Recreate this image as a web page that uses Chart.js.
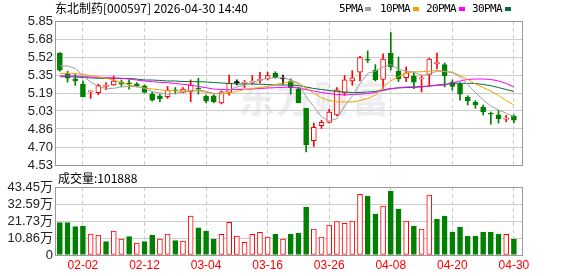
<!DOCTYPE html>
<html>
<head>
<meta charset="utf-8">
<script src="https://cdn.jsdelivr.net/npm/chart.js@4/dist/chart.umd.min.js"></script>
<style>
body { margin: 0; width: 578px; height: 276px; background: #fff; position: relative; overflow: hidden; }
canvas { position: absolute; left: 0; z-index: 1; }
.txt { position: absolute; font-family: "Noto Sans CJK SC", sans-serif; font-size: 12px; line-height: 14px; color: #000; white-space: nowrap; z-index: 2; }
.lg { position: absolute; font-family: "DejaVu Sans Mono", monospace; font-size: 11px; letter-spacing: -0.6px; line-height: 14px; color: #000; z-index: 2; }
.sq { position: absolute; width: 6px; height: 4px; top: 7px; z-index: 2; }
#wm { position: absolute; left: 238px; top: 70px; font-family: "Noto Sans CJK SC", sans-serif; font-weight: bold; font-size: 37px; color: #ededf1; letter-spacing: 1px; z-index: 0; }
</style>
</head>
<body>
<div id="wm">东方财富</div>
<div class="txt" style="left:55px;top:1px;">东北制药[000597] 2026-04-30 14:40</div>
<div class="lg" style="left:339px;top:2px;">5PMA</div><div class="sq" style="left:365px;background:#a0a0a0;"></div>
<div class="lg" style="left:380px;top:2px;">10PMA</div><div class="sq" style="left:413px;background:#f5a300;"></div>
<div class="lg" style="left:426px;top:2px;">20PMA</div><div class="sq" style="left:459px;background:#ff00ff;"></div>
<div class="lg" style="left:472px;top:2px;">30PMA</div><div class="sq" style="left:505px;background:#00703c;"></div>
<div class="txt" style="left:58px;top:171px;">成交量:101888</div>
<canvas id="price" width="578" height="180" style="top:0"></canvas>
<canvas id="vol" width="578" height="100" style="top:176px"></canvas>
<script>
// 交易日
var dates = ['01-28','01-29','01-30','02-02','02-03','02-04','02-05','02-06','02-09','02-10',
  '02-11','02-12','02-13','02-24','02-25','02-26','02-27','03-02','03-03','03-04',
  '03-05','03-06','03-09','03-10','03-11','03-12','03-13','03-16','03-17','03-18',
  '03-19','03-20','03-23','03-24','03-25','03-26','03-27','03-30','03-31','04-01',
  '04-02','04-03','04-07','04-08','04-09','04-10','04-13','04-14','04-15','04-16',
  '04-17','04-20','04-21','04-22','04-23','04-24','04-27','04-28','04-29','04-30'];
var tickDates = ['02-02','02-12','03-04','03-16','03-26','04-08','04-20','04-30'];

var openP = [5.555,5.37,5.32,5.27,5.20,5.193,5.25,5.265,5.29,5.28,
  5.275,5.255,5.18,5.165,5.156,5.215,5.195,5.20,5.235,5.16,
  5.165,5.10,5.195,5.285,5.28,5.29,5.305,5.32,5.37,5.32,
  5.30,5.225,5.05,4.753,4.89,4.92,4.99,5.19,5.30,5.38,
  5.495,5.40,5.315,5.555,5.39,5.33,5.345,5.32,5.36,5.46,
  5.45,5.29,5.27,5.15,5.105,5.06,5.00,4.99,4.95,4.975];
var highP = [5.56,5.39,5.36,5.30,5.21,5.27,5.285,5.345,5.31,5.31,
  5.285,5.265,5.20,5.18,5.25,5.24,5.24,5.31,5.325,5.17,
  5.175,5.21,5.355,5.31,5.305,5.35,5.38,5.38,5.385,5.355,
  5.32,5.245,5.05,4.915,4.94,5.04,5.24,5.35,5.395,5.525,
  5.575,5.45,5.55,5.745,5.52,5.43,5.375,5.355,5.51,5.555,
  5.465,5.31,5.285,5.165,5.12,5.08,5.015,5.03,4.985,4.99];
var lowP = [5.39,5.29,5.26,5.155,5.14,5.175,5.22,5.26,5.25,5.225,
  5.245,5.19,5.115,5.11,5.14,5.18,5.19,5.11,5.18,5.10,
  5.10,5.09,5.17,5.265,5.24,5.27,5.28,5.31,5.325,5.27,
  5.18,5.10,4.65,4.70,4.865,4.915,4.98,5.17,5.26,5.30,
  5.47,5.30,5.235,5.40,5.295,5.295,5.23,5.20,5.255,5.41,
  5.245,5.215,5.125,5.08,5.05,4.99,4.905,4.915,4.925,4.915];
var closeP = [5.40,5.325,5.30,5.155,5.202,5.257,5.255,5.30,5.27,5.275,
  5.255,5.195,5.125,5.135,5.217,5.21,5.225,5.263,5.225,5.115,
  5.11,5.20,5.28,5.285,5.29,5.30,5.31,5.35,5.33,5.32,
  5.24,5.10,4.715,4.875,4.92,5.015,5.22,5.31,5.33,5.515,
  5.49,5.31,5.50,5.43,5.32,5.375,5.29,5.325,5.50,5.465,
  5.35,5.25,5.18,5.12,5.08,5.02,4.995,4.955,4.955,4.94];

var ma5 = [5.438,5.438,5.415,5.346,5.291,5.25,5.231,5.233,5.245,5.25,
  5.25,5.231,5.204,5.19,5.181,5.185,5.199,5.211,5.218,5.206,
  5.187,5.187,5.218,5.245,5.263,5.284,5.309,5.325,5.33,5.33,
  5.309,5.279,5.156,5.064,4.973,4.933,4.955,5.07,5.16,5.275,
  5.37,5.39,5.43,5.45,5.41,5.387,5.383,5.35,5.362,5.39,
  5.386,5.378,5.34,5.265,5.195,5.128,5.07,5.034,5.005,4.975];
var ma10 = [5.37,5.37,5.369,5.361,5.35,5.337,5.325,5.309,5.284,5.263,
  5.25,5.236,5.227,5.218,5.211,5.211,5.208,5.211,5.208,5.196,
  5.185,5.181,5.19,5.204,5.222,5.231,5.24,5.25,5.268,5.282,
  5.294,5.282,5.235,5.19,5.147,5.12,5.11,5.108,5.108,5.12,
  5.14,5.17,5.245,5.30,5.34,5.375,5.383,5.385,5.39,5.396,
  5.389,5.38,5.35,5.314,5.273,5.24,5.208,5.167,5.121,5.08];
var ma20 = [5.346,5.346,5.346,5.341,5.337,5.334,5.332,5.328,5.325,5.318,
  5.309,5.30,5.294,5.288,5.284,5.277,5.27,5.263,5.25,5.238,
  5.226,5.222,5.22,5.222,5.224,5.227,5.231,5.236,5.239,5.242,
  5.245,5.236,5.222,5.208,5.195,5.185,5.176,5.172,5.176,5.18,
  5.185,5.195,5.213,5.227,5.239,5.245,5.248,5.25,5.254,5.259,
  5.263,5.282,5.30,5.314,5.318,5.318,5.314,5.30,5.277,5.245];
var ma30 = [5.339,5.339,5.337,5.332,5.328,5.325,5.325,5.325,5.323,5.323,
  5.318,5.309,5.309,5.305,5.30,5.30,5.295,5.294,5.294,5.291,
  5.286,5.282,5.277,5.273,5.273,5.273,5.27,5.268,5.263,5.263,
  5.263,5.259,5.245,5.231,5.222,5.213,5.204,5.199,5.195,5.195,
  5.199,5.204,5.218,5.231,5.236,5.24,5.242,5.245,5.254,5.263,
  5.27,5.277,5.279,5.279,5.277,5.268,5.257,5.24,5.222,5.204];

// 成交量(手), 1 = 红(涨) -1 = 绿(跌)
var volume = [206400,206400,180900,185300,134200,127800,85000,153400,102200,117000,
  76700,85000,127800,102200,134200,91400,89500,249200,174400,153400,
  102200,132000,208900,121400,81100,132000,145000,115000,132000,102200,
  132000,140600,306700,166100,115000,191700,212800,202600,217300,387600,
  377000,262000,313100,409000,293900,217300,185300,166100,383400,230000,
  249200,147000,178900,121400,121400,147000,147000,134200,132000,101888];
var volDir = [-1,-1,-1,-1,1,1,-1,1,1,-1,
  1,-1,-1,1,1,-1,1,1,-1,-1,
  -1,1,1,1,1,1,1,1,-1,1,
  -1,-1,-1,1,1,1,1,1,1,1,
  -1,-1,1,-1,-1,1,-1,1,1,-1,
  -1,-1,-1,-1,-1,-1,-1,-1,1,-1];

var priceTicks = ['4.53','4.70','4.86','5.03','5.19','5.35','5.52','5.68','5.85'];
var volTicks = ['0','10.86万','21.73万','32.59万','43.45万'];

var RED = '#ff0000', GREEN = '#008000', BLACK = '#000000';
var tickIdx = tickDates.map(function(d) { return dates.indexOf(d); });
var pMin = parseFloat(priceTicks[0]), pMax = parseFloat(priceTicks[priceTicks.length - 1]);
var pStep = (pMax - pMin) / (priceTicks.length - 1);
var vMax = parseFloat(volTicks[volTicks.length - 1]) * 10000;
var vStep = vMax / (volTicks.length - 1);

function candleColor(i) {
    if (closeP[i] > openP[i]) return RED;
    if (closeP[i] < openP[i]) return GREEN;
    return BLACK;
}
var cColors = dates.map(function(d, i) { return candleColor(i); });

// marco gris alrededor del area de dibujo
var frame = {
    id: 'frame',
    afterDraw: function(c) {
        var a = c.chartArea, ctx = c.ctx;
        ctx.save();
        ctx.strokeStyle = '#999';
        ctx.lineWidth = 1;
        ctx.strokeRect(Math.round(a.left) - 0.5, Math.round(a.top) + 0.5,
            Math.round(a.right) - Math.round(a.left) + 1, Math.round(a.bottom) - Math.round(a.top));
        ctx.restore();
    }
};

function xAxis(showLabels) {
    return {
        type: 'linear', min: -0.5, max: 60.05, bounds: 'data', offset: false,
        afterBuildTicks: function(s) { s.ticks = tickIdx.map(function(v) { return { value: v }; }); },
        afterFit: function(s) { s.height = showLabels ? 21 : 0; },
        grid: { color: '#cccccc', drawTicks: false, offset: false },
        border: { display: false, dash: [4, 3] },
        ticks: {
            display: showLabels, autoSkip: false, maxRotation: 0, padding: 3,
            color: RED, font: { size: 12, family: 'Liberation Sans, Arial' },
            callback: function(v, i) { return tickDates[i]; }
        }
    };
}

function yAxis(lo, hi, labels, step, family) {
    return {
        min: lo, max: hi, bounds: 'data', beginAtZero: false,
        afterBuildTicks: function(s) { s.ticks = labels.map(function(t, k) { return { value: lo + k * step }; }); },
        afterFit: function(s) { s.width = 56; },
        grid: { color: '#cccccc', drawTicks: false },
        border: { display: false },
        ticks: {
            autoSkip: false, padding: 3, color: '#222', font: { size: 13, family: family },
            callback: function(v, i) { return labels[i]; }
        }
    };
}

function lineSet(data, color) {
    return {
        type: 'line', order: 0,
        data: data.map(function(v, i) { return { x: i, y: v }; }),
        borderColor: color, borderWidth: 1, pointRadius: 0, tension: 0, fill: false
    };
}

new Chart(document.getElementById('price'), {
    type: 'bar',
    data: {
        datasets: [
            lineSet(ma5, '#a0a0a0'),
            lineSet(ma10, '#f5a300'),
            lineSet(ma20, '#ff00ff'),
            lineSet(ma30, '#00703c'),
            {
                // cuerpo de la vela
                order: 1, grouped: false, barThickness: 5, minBarLength: 1,
                data: dates.map(function(d, i) { return { x: i, y: [openP[i], closeP[i]] }; }),
                backgroundColor: cColors.map(function(c) { return c === RED ? '#ffffff' : c; }),
                borderColor: cColors, borderWidth: 1, borderSkipped: false
            },
            {
                // mecha
                order: 2, grouped: false, barThickness: 1,
                data: dates.map(function(d, i) { return { x: i, y: [lowP[i], highP[i]] }; }),
                backgroundColor: cColors, borderWidth: 0
            }
        ]
    },
    options: {
        responsive: false, animation: false, devicePixelRatio: 1, events: [],
        layout: { padding: { top: 21, right: 56, bottom: 15, left: 0 } },
        plugins: { legend: { display: false }, tooltip: { enabled: false } },
        scales: {
            x: xAxis(false),
            y: yAxis(pMin, pMax, priceTicks, pStep, 'Liberation Sans, Arial')
        }
    },
    plugins: [frame]
});

new Chart(document.getElementById('vol'), {
    type: 'bar',
    data: {
        datasets: [{
            grouped: false, barThickness: 5,
            data: volume.map(function(v, i) { return { x: i, y: v }; }),
            backgroundColor: volDir.map(function(d) { return d > 0 ? '#ffffff' : GREEN; }),
            borderColor: volDir.map(function(d) { return d > 0 ? RED : GREEN; }),
            borderWidth: 1, borderSkipped: false
        }]
    },
    options: {
        responsive: false, animation: false, devicePixelRatio: 1, events: [],
        layout: { padding: { top: 11, right: 56, bottom: 0, left: 0 } },
        plugins: { legend: { display: false }, tooltip: { enabled: false } },
        scales: {
            x: xAxis(true),
            y: yAxis(0, vMax, volTicks, vStep, 'Liberation Sans, Noto Sans CJK SC')
        }
    },
    plugins: [frame]
});
</script>
</body>
</html>
